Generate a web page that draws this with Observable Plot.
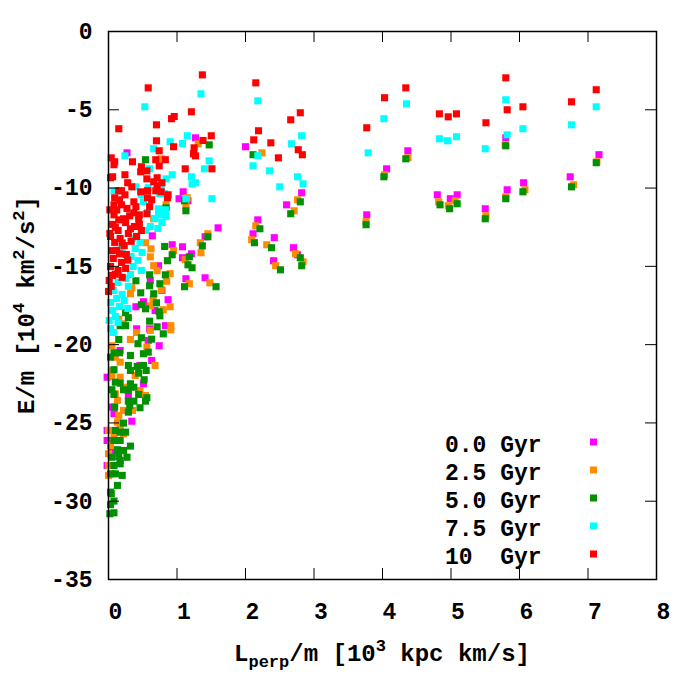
<!DOCTYPE html>
<html><head><meta charset="utf-8">
<script src="https://cdn.jsdelivr.net/npm/d3@7"></script>
<script src="https://cdn.jsdelivr.net/npm/@observablehq/plot@0.6"></script>
<style>body{margin:0;background:#fff}</style>
</head><body><div id="chart"></div>
<script>
const seriesLabels = ["0.0 Gyr", "2.5 Gyr", "5.0 Gyr", "7.5 Gyr", "10  Gyr"];
const seriesColors = ["#ff00ff", "#ff8c00", "#009000", "#00ffff", "#ff0000"];
const xTicks = [0, 1, 2, 3, 4, 5, 6, 7, 8];
const yTicks = [-35, -30, -25, -20, -15, -10, -5, 0];

// [L_perp/m (10^3 kpc km/s), E/m (10^4 km^2/s^2)]
const gyr00 = [
[4.37,-7.62],[4.06,-8.77],[3.77,-11.71],[4.80,-10.43],[4.99,-10.68],[5.09,-10.43],[5.80,-6.79],[5.82,-10.11],[6.06,-9.66],[5.50,-11.32],[6.74,-9.28],[7.16,-7.87],
[1.27,-6.79],[2.00,-7.36],[1.09,-10.24],[1.03,-10.68],[2.82,-10.30],[2.60,-11.07],[2.18,-12.03],[1.60,-12.54],[2.11,-12.92],[2.42,-13.17],[1.41,-13.11],[0.93,-13.62],[1.08,-13.75],[2.70,-13.81],[1.21,-14.20],[1.08,-14.45],[2.41,-14.64],[2.76,-14.26],[1.13,-15.79],[1.41,-15.73],
[0.27,-7.75],[1.16,-10.81],[0.64,-13.05],[0.73,-14.96],[0.87,-17.13],[0.40,-17.58],[0.51,-17.26],[0.60,-18.99],[0.41,-18.99],[0.74,-20.07],[0.83,-18.79],[0.63,-21.01],[-0.02,-22.08],[0.51,-22.50],[0.08,-24.41],[0.34,-24.89],[-0.02,-25.48],[-0.02,-26.12],[-0.02,-27.72],[0.05,-23.99],
[0.17,-20.37],[0.29,-23.25],[0.46,-21.33],[0.58,-19.73],[0.68,-17.82],[0.78,-16.54],[0.61,-15.90],[0.14,-25.48],[0.06,-26.76]
];
const gyr25 = [
[4.37,-8.07],[4.03,-9.15],[3.76,-12.15],[4.82,-10.88],[4.96,-11.13],[5.06,-10.81],[5.79,-7.24],[5.80,-10.56],[6.08,-10.11],[5.51,-11.77],[6.79,-9.79],[7.13,-8.32],
[1.31,-7.17],[2.24,-7.75],[1.15,-10.62],[2.76,-10.75],[2.71,-11.45],[2.15,-12.41],[1.45,-12.92],[2.09,-13.30],[1.34,-13.49],[2.31,-13.62],[0.95,-14.00],[1.35,-14.13],[2.73,-14.20],[2.84,-14.71],[2.44,-14.96],[1.12,-14.58],[1.18,-16.11],[1.48,-16.05],
[0.77,-8.13],[1.13,-11.13],[0.84,-11.07],[0.66,-11.96],[0.54,-13.49],[0.62,-13.88],[0.61,-14.39],[0.66,-14.96],[0.71,-15.28],[0.90,-15.47],[0.85,-15.95],[0.34,-16.37],[0.32,-16.75],[0.77,-16.50],[0.65,-17.13],[0.61,-17.52],[0.80,-17.77],[0.90,-17.58],[0.91,-18.79],[0.91,-19.05],
[0.15,-18.37],[0.22,-18.67],[0.41,-19.22],[0.05,-20.07],[0.32,-19.67],[0.56,-20.16],[0.61,-19.09],[0.10,-20.80],[0.17,-21.12],[0.05,-21.65],[0.05,-22.03],[0.17,-22.08],[0.27,-22.72],[0.10,-23.14],[0.13,-23.56],[0.22,-24.20],[0.15,-24.52],[0.13,-24.95],[0.00,-25.48],[0.22,-25.69],[0.03,-26.44],[0.00,-26.97],[0.00,-27.72],[0.00,-28.35],[0.08,-25.91],[0.17,-25.22],
[0.39,-21.97],[0.46,-22.93],[0.68,-21.33],[0.54,-23.25],[0.35,-24.20]
];
const gyr50 = [
[4.34,-8.13],[4.02,-9.28],[3.76,-12.34],[4.84,-11.07],[4.98,-11.32],[5.09,-11.00],[5.80,-7.30],[5.80,-10.68],[6.05,-10.24],[5.50,-11.96],[6.76,-9.92],[7.12,-8.38],
[1.47,-7.24],[2.11,-7.87],[1.11,-10.81],[1.13,-11.45],[2.80,-10.88],[2.66,-11.64],[2.21,-12.60],[1.45,-13.11],[2.13,-13.49],[1.37,-13.69],[2.38,-13.81],[0.93,-14.26],[1.18,-14.39],[2.80,-14.45],[1.16,-14.90],[1.22,-15.09],[2.82,-14.96],[2.51,-15.22],[1.11,-16.30],[1.57,-16.30],
[0.54,-8.19],[0.84,-11.26],[0.82,-13.73],[0.86,-14.64],[0.60,-15.54],[0.83,-15.54],[0.40,-15.92],[0.75,-16.11],[0.60,-16.24],[0.47,-16.69],[0.66,-16.75],[0.70,-17.33],[0.48,-17.45],[0.54,-17.71],[0.74,-17.90],[0.75,-18.16],[0.25,-17.96],[0.29,-18.28],[0.60,-18.50],[0.71,-18.86],[0.80,-19.31],[0.17,-18.79],[0.25,-18.79],[0.15,-19.67],[0.48,-19.56],[0.63,-19.65],
[0.16,-20.52],[0.08,-20.52],[0.43,-19.94],[0.32,-20.69],[0.51,-20.58],[0.58,-20.48],[0.03,-20.80],[0.08,-21.60],[0.29,-21.33],[0.42,-21.39],[0.51,-21.33],[0.55,-21.65],[0.32,-21.65],[0.44,-21.82],[0.52,-22.24],[0.10,-22.40],[0.17,-22.46],[0.32,-22.50],[0.37,-22.72],[0.22,-22.88],[0.29,-22.93],[0.05,-22.88],[0.44,-23.18],[0.08,-23.18],[0.56,-23.39],[0.29,-23.61],[0.37,-23.61],[0.54,-23.61],[0.09,-23.99],[0.31,-23.88],[0.46,-24.03],[0.29,-24.31],
[0.22,-25.01],[0.10,-25.48],[0.17,-25.59],[0.25,-25.59],[0.08,-26.12],[0.17,-26.12],[0.13,-26.71],[0.32,-26.48],[0.22,-26.76],[0.15,-27.14],[0.27,-27.19],[0.05,-27.19],[0.17,-27.40],[0.08,-27.72],[0.17,-27.61],[0.03,-28.25],[0.10,-28.25],[0.20,-28.35],[0.13,-28.99],[0.03,-29.42],[0.04,-29.52],[0.08,-29.99],[0.03,-30.22],[0.08,-30.74],[0.02,-30.80]
];
const gyr75 = [
[4.02,-5.57],[4.35,-4.62],[3.79,-7.75],[4.83,-6.85],[4.95,-6.98],[5.08,-6.72],[5.80,-4.36],[5.82,-6.60],[6.05,-6.21],[5.50,-7.49],[6.76,-5.96],[7.12,-4.81],
[1.35,-3.98],[2.18,-4.43],[1.15,-6.66],[1.08,-7.15],[1.47,-8.26],[1.40,-8.77],[2.82,-6.66],[2.67,-7.17],[2.18,-7.94],[2.11,-8.58],[2.35,-8.90],[0.93,-9.15],[1.21,-9.28],[1.22,-9.73],[1.27,-9.66],[2.76,-9.28],[2.84,-9.73],[2.50,-9.92],[1.13,-10.68],[1.51,-10.68],
[0.53,-4.81],[0.90,-7.04],[0.66,-7.49],[0.24,-7.94],[0.60,-8.77],[0.84,-9.41],[0.40,-9.92],[0.58,-9.98],[0.77,-10.05],[0.48,-10.43],[0.82,-10.36],[0.08,-10.17],[0.73,-11.32],[0.83,-11.39],[0.80,-11.71],[0.73,-11.71],[0.51,-10.88],[0.74,-10.36],
[0.57,-11.56],[0.68,-11.94],[0.78,-12.20],[0.61,-12.45],[0.54,-12.71],[0.72,-12.58],[0.84,-11.81],
[0.35,-13.22],[0.46,-13.47],[0.39,-13.86],[0.49,-14.11],[0.33,-14.37],[0.43,-14.62],[0.36,-15.01],[0.48,-15.26],[0.32,-15.52],[0.20,-13.86],[0.29,-14.50],
[0.25,-15.77],[0.14,-16.03],[0.29,-16.28],[0.07,-16.54],[0.20,-16.79],[0.12,-17.05],[0.03,-17.31],[0.23,-17.18],[0.16,-17.56],[0.06,-17.82],[0.28,-17.69],[0.10,-18.20],[0.01,-18.46],[0.14,-18.58],[0.03,-18.97],[0.07,-19.22]
];
const gyr10 = [
[4.03,-4.23],[4.34,-3.60],[3.77,-6.15],[4.83,-5.26],[4.96,-5.45],[5.08,-5.26],[5.80,-2.96],[5.82,-5.00],[6.05,-4.81],[5.51,-5.83],[6.76,-4.49],[7.12,-3.72],
[1.37,-2.77],[2.15,-3.28],[1.21,-5.13],[0.96,-5.43],[0.92,-5.57],[2.80,-5.19],[2.66,-5.64],[2.19,-6.34],[2.12,-6.92],[2.37,-7.11],[1.50,-6.66],[1.38,-6.96],[1.25,-7.43],[1.24,-7.81],[1.27,-7.94],[0.95,-7.36],[2.77,-7.55],[2.83,-7.87],[2.48,-8.07],[1.12,-8.77],[1.51,-8.77],
[0.58,-3.60],[0.15,-6.21],[0.70,-5.96],[0.70,-6.98],[0.74,-7.62],[0.04,-8.07],[0.09,-8.32],[0.08,-8.51],[0.35,-8.32],[0.69,-8.19],[0.83,-8.19],[0.74,-8.58],[0.48,-8.64],[0.47,-8.96],[0.56,-8.90],[0.24,-9.15],[0.06,-9.28],[0.03,-9.34],[0.56,-9.41],[0.71,-9.34],[0.66,-9.60],[0.78,-9.66],[0.28,-9.66],[0.34,-9.92],[0.71,-9.85],[0.77,-10.24],[0.57,-10.17],[0.69,-10.17],[0.47,-10.24],[0.87,-10.43],[0.86,-10.62],[0.15,-10.17],[0.19,-10.17],[0.09,-10.62],[0.24,-10.43],[0.57,-10.62],[0.63,-10.75],[0.16,-10.75],[0.08,-11.07],[0.19,-11.07],[0.37,-10.88],[0.40,-11.19],[0.02,-11.39],[0.60,-11.19],[0.37,-11.58],[0.45,-11.71],[0.31,-11.77],[0.08,-11.71],[0.56,-11.64],[0.22,-11.96],[0.44,-11.96],[0.15,-12.03],
[0.06,-12.32],[0.25,-12.20],[0.38,-12.45],[0.48,-12.71],[0.14,-12.71],[0.29,-12.90],[0.03,-13.09],[0.17,-13.22],[0.41,-13.09],[0.09,-13.47],[0.23,-13.67],[0.12,-13.98],[0.26,-14.24],[0.07,-14.50],[0.19,-14.75],[0.03,-15.01],[0.14,-15.26],[0.25,-15.13],[0.06,-15.58],[0.01,-15.90],[0.04,-16.28],[0.00,-16.60],
[0.10,-12.50],[0.32,-12.60],[0.20,-13.50],[0.33,-13.40],[0.05,-14.00],[0.16,-14.20],[0.28,-14.60],[0.10,-15.50],[0.20,-15.70],[0.02,-12.90],[0.12,-11.40],[0.27,-11.30],[0.45,-12.30]
];
const allSeries = [gyr00, gyr25, gyr50, gyr75, gyr10];

const font = "'Liberation Mono', 'DejaVu Sans Mono', monospace";
const fmt = d => String(d);
const plotW = 700, plotH = 700, mL = 108, mR = 44, mT = 31, mB = 121, tickLen = 11;
const innerW = plotW - mL - mR, innerH = plotH - mT - mB;
const xDom = [0, 8], yDom = [-35, 0];
// tick length expressed in data units of each scale
const tx = tickLen * (xDom[1] - xDom[0]) / innerW;
const ty = tickLen * (yDom[1] - yDom[0]) / innerH;

const plot = Plot.plot({
  width: plotW, height: plotH,
  marginLeft: mL, marginRight: mR, marginTop: mT, marginBottom: mB,
  x: {domain: xDom, axis: null},
  y: {domain: yDom, axis: null},
  style: {fontFamily: font, fontSize: "23px", fontWeight: "bold", background: "white", color: "black", overflow: "visible"},
  marks: [
    ...allSeries.map((pts, k) => Plot.dot(pts, {x: d => d[0], y: d => d[1], symbol: "square", r: 4, fill: seriesColors[k], stroke: "none"})),
    // inward ticks on all four sides
    Plot.ruleX(xTicks, {x: d => d, y1: yDom[0], y2: yDom[0] + ty, stroke: "black"}),
    Plot.ruleX(xTicks, {x: d => d, y1: yDom[1] - ty, y2: yDom[1], stroke: "black"}),
    Plot.ruleY(yTicks, {y: d => d, x1: xDom[0], x2: xDom[0] + tx, stroke: "black"}),
    Plot.ruleY(yTicks, {y: d => d, x1: xDom[1] - tx, x2: xDom[1], stroke: "black"}),
    Plot.axisX(xTicks, {anchor: "bottom", tickSize: 0, tickPadding: 23, dx: 7, tickFormat: fmt, label: null}),
    Plot.axisY(yTicks, {anchor: "left", tickSize: 0, tickPadding: 16, tickFormat: fmt, label: null}),
    Plot.frame({stroke: "black", strokeWidth: 1.5})
  ]
});

const svg = d3.select(plot);
function richText(g, parts) {
  parts.forEach(p => {
    const t = g.append("tspan").text(p.t);
    if (p.size) t.attr("font-size", p.size);
    if (p.dy) t.attr("dy", p.dy);
  });
}
// y-axis label
const yl = svg.append("text")
  .attr("transform", "translate(34,305) rotate(-90)")
  .attr("text-anchor", "middle")
  .style("white-space", "pre")
  .attr("font-size", 24);
richText(yl, [
  {t: "E/m [10"}, {t: "4", size: 17, dy: "-10"}, {t: " km", dy: "10"},
  {t: "2", size: 17, dy: "-10"}, {t: "/s", dy: "10"}, {t: "2", size: 17, dy: "-10"}, {t: "]", dy: "10"}
]);
// x-axis label
const xl = svg.append("text")
  .attr("x", 382).attr("y", 661)
  .attr("text-anchor", "middle")
  .style("white-space", "pre")
  .attr("font-size", 24);
richText(xl, [
  {t: "L"}, {t: "perp", size: 17, dy: "6"}, {t: "/m [10", dy: "-6"},
  {t: "3", size: 17, dy: "-10"}, {t: " kpc km/s]", dy: "10"}
]);
// legend
const lg = svg.append("g").attr("text-anchor", "start");
seriesLabels.forEach((lab, i) => {
  lg.append("text").attr("x", 445).attr("y", 452 + 28 * i)
    .style("white-space", "pre").attr("font-size", 23).text(lab);
  lg.append("rect").attr("x", 590).attr("y", 438.5 + 28 * i)
    .attr("width", 7).attr("height", 7).attr("fill", seriesColors[i]);
});

document.getElementById("chart").appendChild(plot);
</script>
</body></html>
